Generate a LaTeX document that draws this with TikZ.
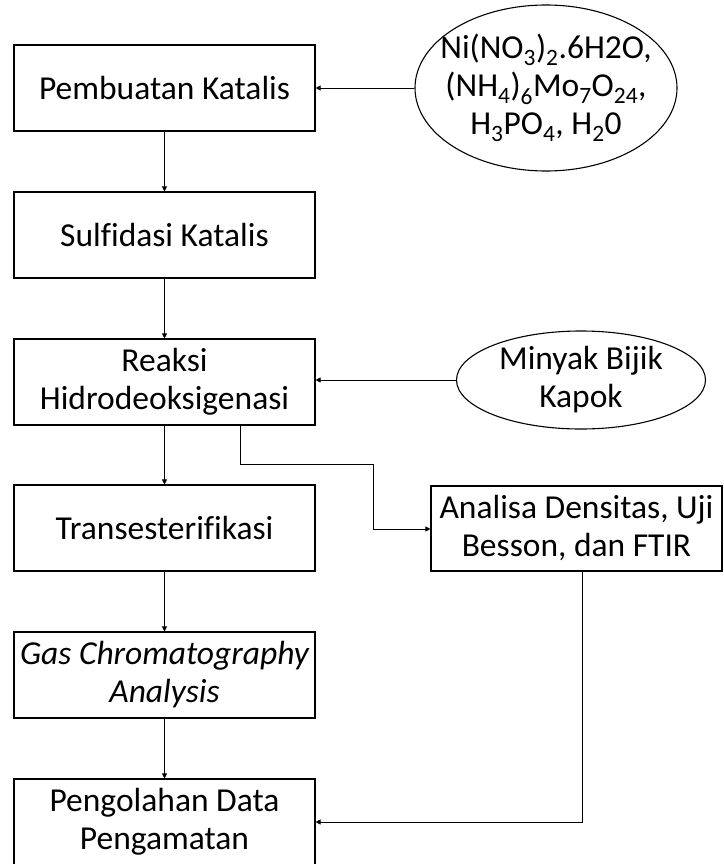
\documentclass[tikz,border=0pt]{standalone}
\usepackage{fontspec}
\setmainfont{Carlito}[Ligatures=NoCommon]
\usetikzlibrary{shapes.geometric,arrows.meta}
\begin{document}
\begin{tikzpicture}[x=1pt,y=-1pt,
  every node/.style={font=\fontsize{33.5}{38}\selectfont, align=center},
  procbox/.style={draw, line width=1.1pt, minimum width=301pt, minimum height=86pt, inner sep=0pt},
  inbox/.style={draw, ellipse, line width=1.1pt, inner sep=0pt},
  conn/.style={line width=0.9pt, -{Triangle[length=5pt,width=5pt]}}]
\useasboundingbox (0,0) rectangle (723,864);
\node[procbox] (b1) at (164.5,88) {Pembuatan Katalis};
\node[procbox] (b2) at (164.5,235) {Sulfidasi Katalis};
\node[procbox] (b3) at (164.5,382) {Reaksi\\Hidrodeoksigenasi};
\node[procbox] (b4) at (164.5,528) {Transesterifikasi};
\node[procbox] (b5) at (164.5,675) {\itshape Gas Chromatography\\\itshape Analysis};
\node[procbox] (b6) at (164.5,822) {Pengolahan Data\\Pengamatan};
\node[procbox, minimum width=291pt, minimum height=85pt] (an) at (576.5,528.5) {Analisa Densitas, Uji\\Besson, dan FTIR};
\node[inbox, inner xsep=-40pt, inner ysep=-30pt, minimum width=262pt, minimum height=166pt] (e1) at (546,88)
  {Ni(NO\textsubscript{3})\textsubscript{2}.6H2O,\\(NH\textsubscript{4})\textsubscript{6}Mo\textsubscript{7}O\textsubscript{24},\\H\textsubscript{3}PO\textsubscript{4}, H\textsubscript{2}0};
\node[inbox, minimum width=249pt, minimum height=98pt] (e2) at (581,380) {Minyak Bijik\\Kapok};
\coordinate (s3) at (240,425);
\coordinate (sa) at (582,571);
\draw[conn] (b1) -- (b2);
\draw[conn] (b2) -- (b3);
\draw[conn] (b3) -- (b4);
\draw[conn] (b4) -- (b5);
\draw[conn] (b5) -- (b6);
\draw[conn] (e1.west) -- (b1.east);
\draw[conn] (e2.west) -- (b3.east |- e2.west);
\draw[conn] (s3) -- (240,464) -- (373,464) -- (373,529) -- (an.west |- 0,529);
\draw[conn] (sa) -- (582,822) -- (b6.east);
\end{tikzpicture}
\end{document}
